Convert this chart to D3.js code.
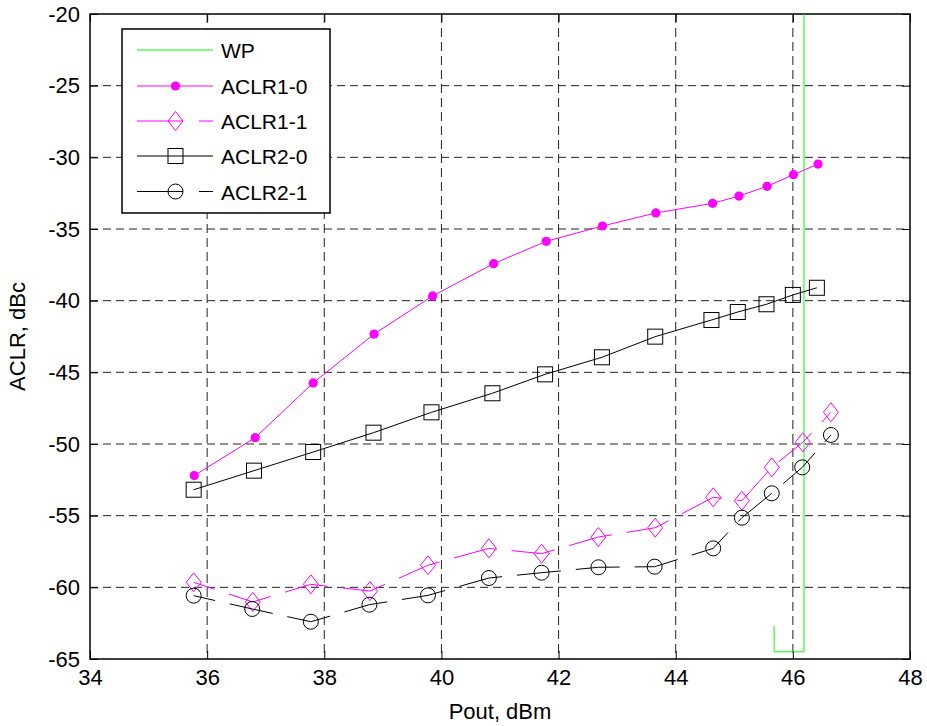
<!DOCTYPE html>
<html><head><meta charset="utf-8">
<script src="https://cdn.jsdelivr.net/npm/d3@7"></script>
<style>
body{margin:0;background:#fff;}
text{font-family:"Liberation Sans",Arial,sans-serif;}
</style></head>
<body><svg id="c" width="927" height="726"></svg>
<script>
const xTicks=[34,36,38,40,42,44,46,48];
const yTicks=[-20,-25,-30,-35,-40,-45,-50,-55,-60,-65];
const seriesNames=["WP","ACLR1-0","ACLR1-1","ACLR2-0","ACLR2-1"];
const wpX=[45.68,45.68,46.19,46.19];
const wpY=[-62.7,-64.5,-64.5,-20];
const aclr10X=[35.78,36.82,37.81,38.85,39.85,40.89,41.79,42.75,43.66,44.63,45.08,45.56,46.01,46.43];
const aclr10Y=[-52.2,-49.56,-45.74,-42.33,-39.67,-37.42,-35.86,-34.79,-33.88,-33.21,-32.70,-32.02,-31.21,-30.47];
const aclr11X=[35.77,36.78,37.77,38.78,39.77,40.81,41.71,42.68,43.65,44.64,45.13,45.64,46.17,46.65];
const aclr11Y=[-59.65,-61.02,-59.79,-60.26,-58.46,-57.28,-57.65,-56.49,-55.84,-53.72,-53.96,-51.63,-49.88,-47.79];
const aclr20X=[35.77,36.80,37.81,38.84,39.83,40.87,41.77,42.74,43.65,44.61,45.06,45.55,46.00,46.41];
const aclr20Y=[-53.19,-51.86,-50.56,-49.21,-47.79,-46.46,-45.14,-43.95,-42.51,-41.35,-40.79,-40.25,-39.60,-39.10];
const aclr21X=[35.77,36.77,37.77,38.77,39.77,40.81,41.71,42.68,43.64,44.64,45.13,45.64,46.16,46.65];
const aclr21Y=[-60.58,-61.51,-62.40,-61.21,-60.56,-59.35,-58.98,-58.60,-58.56,-57.28,-55.14,-53.44,-51.63,-49.37];

const L=90,R=910,T=14,B=659;
const svg=d3.select("#c");
const x=d3.scaleLinear().domain([34,48]).range([L,R]);
const y=d3.scaleLinear().domain([-65,-20]).range([B,T]);
const FS=22;
const fmt=d=>String(d);

// grid
const g=svg.append("g");
xTicks.slice(1,-1).forEach(t=>g.append("line").attr("x1",x(t)).attr("x2",x(t)).attr("y1",T).attr("y2",B)
  .attr("stroke","#222").attr("stroke-width",1).attr("stroke-dasharray","9,5"));
yTicks.slice(1,-1).forEach(t=>g.append("line").attr("x1",L).attr("x2",R).attr("y1",y(t)).attr("y2",y(t))
  .attr("stroke","#222").attr("stroke-width",1).attr("stroke-dasharray","8,5"));

// axes
function styleAxis(sel){sel.select(".domain").remove();sel.selectAll("line").attr("stroke","#000");
  sel.selectAll("text").attr("font-size",FS).attr("fill","#000").attr("font-family","Liberation Sans, Arial, sans-serif");}
const ax=svg.append("g").attr("transform",`translate(0,${B})`).call(d3.axisBottom(x).tickValues(xTicks).tickSizeInner(-8).tickSizeOuter(0).tickPadding(10).tickFormat(fmt));
styleAxis(ax);
const axT=svg.append("g").attr("transform",`translate(0,${T})`).call(d3.axisTop(x).tickValues(xTicks).tickSizeInner(-8).tickSizeOuter(0).tickFormat(""));
styleAxis(axT);
const ay=svg.append("g").attr("transform",`translate(${L},0)`).call(d3.axisLeft(y).tickValues(yTicks).tickSizeInner(-8).tickSizeOuter(0).tickPadding(10).tickFormat(fmt));
styleAxis(ay);
const ayR=svg.append("g").attr("transform",`translate(${R},0)`).call(d3.axisRight(y).tickValues(yTicks).tickSizeInner(-8).tickSizeOuter(0).tickFormat(""));
styleAxis(ayR);
svg.append("rect").attr("x",L).attr("y",T).attr("width",R-L).attr("height",B-T).attr("fill","none").attr("stroke","#000").attr("stroke-width",1.5);

// labels
svg.append("text").attr("x",(L+R)/2).attr("y",719).attr("text-anchor","middle").attr("font-size",FS).text("Pout, dBm");
svg.append("text").attr("transform",`translate(25,${(T+B)/2}) rotate(-90)`).attr("text-anchor","middle").attr("font-size",FS).text("ACLR, dBc");

const line=d3.line().x(d=>x(d[0])).y(d=>y(d[1]));
const zip=(a,b)=>a.map((v,i)=>[v,b[i]]);
const MAG="#ff00ff";
const series=[
 {name:seriesNames[0],data:zip(wpX,wpY),color:"#00ff00",dash:null,marker:null},
 {name:seriesNames[1],data:zip(aclr10X,aclr10Y),color:MAG,dash:null,marker:"dot"},
 {name:seriesNames[2],data:zip(aclr11X,aclr11Y),color:MAG,dash:"44,15",marker:"diamond"},
 {name:seriesNames[3],data:zip(aclr20X,aclr20Y),color:"#000",dash:null,marker:"square"},
 {name:seriesNames[4],data:zip(aclr21X,aclr21Y),color:"#000",dash:"44,15",marker:"circle"}
];
function drawMarker(sel,type,cx,cy,color){
  if(type==="dot") sel.append("circle").attr("cx",cx).attr("cy",cy).attr("r",4.6).attr("fill",color);
  else if(type==="circle") sel.append("circle").attr("cx",cx).attr("cy",cy).attr("r",7.5).attr("fill","none").attr("stroke",color).attr("stroke-width",1);
  else if(type==="square") sel.append("rect").attr("x",cx-7.5).attr("y",cy-7.5).attr("width",15).attr("height",15).attr("fill","none").attr("stroke",color).attr("stroke-width",1);
  else if(type==="diamond") sel.append("path").attr("d",`M${cx},${cy-9.5}L${cx+7.5},${cy}L${cx},${cy+9.5}L${cx-7.5},${cy}Z`).attr("fill","none").attr("stroke",color).attr("stroke-width",1);
}
const plot=svg.append("g");
series.forEach(s=>{
  const p=plot.append("path").datum(s.data).attr("d",line).attr("fill","none").attr("stroke",s.color).attr("stroke-width",1);
  if(s.dash) p.attr("stroke-dasharray",s.dash).attr("stroke-dashoffset",22);
  if(s.marker) s.data.forEach(d=>drawMarker(plot,s.marker,x(d[0]),y(d[1]),s.color));
});

// legend
const lg=svg.append("g");
lg.append("rect").attr("x",122).attr("y",29).attr("width",208).attr("height",184).attr("fill","#fff").attr("stroke","#000").attr("stroke-width",1.5);
const rowY=[50,86,121,156,191.5];
series.forEach((s,i)=>{
  const yy=rowY[i];
  const l=lg.append("line").attr("x1",137).attr("x2",213).attr("y1",yy).attr("y2",yy).attr("stroke",s.color).attr("stroke-width",1);
  if(s.dash) l.attr("stroke-dasharray","46,16");
  if(s.marker) drawMarker(lg,s.marker,175.5,yy,s.color);
  lg.append("text").attr("x",221).attr("y",yy+8).attr("font-size",21).text(s.name);
});
</script></body></html>
